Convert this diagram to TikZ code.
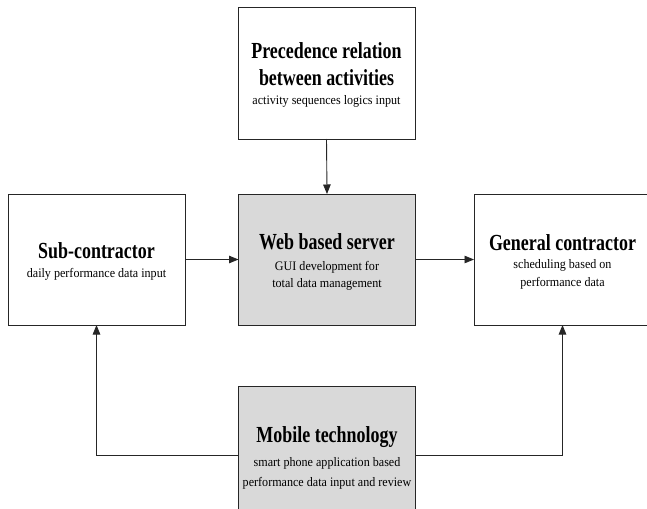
\documentclass[tikz,border=0pt]{standalone}
\usepackage{fontspec}
\setmainfont{Liberation Serif}
\newfontfamily\headfont[FakeStretch=0.78]{Liberation Serif}
\newfontfamily\subfont[FakeStretch=0.93]{Liberation Serif}
\usetikzlibrary{arrows.meta}
\definecolor{boxgray}{HTML}{D9D9D9}
\definecolor{linegray}{HTML}{262626}
\tikzset{
  box/.style={draw=linegray, line width=1pt, minimum width=177pt, minimum height=131pt, inner sep=0pt, outer sep=0pt},
  graybox/.style={box, fill=boxgray},
  head/.style={anchor=base, inner sep=0pt, font=\headfont\bfseries\fontsize{23}{27}\selectfont},
  sub/.style={anchor=base, inner sep=0pt, font=\subfont\fontsize{13}{17}\selectfont},
  arr/.style={draw=linegray, line width=0.9pt, -{Triangle[length=9.5pt,width=7.5pt]}}
}
\begin{document}
\begin{tikzpicture}[x=1pt,y=-1pt]
\useasboundingbox (0,0) rectangle (647,508);
\clip (0,0) rectangle (647,508);
% boxes
\node[box] (top) at (326.5,73.5) {};
\node[box] (sc) at (96.5,259.5) {};
\node[graybox] (web) at (327,259.5) {};
\node[box] (gc) at (562.5,259.5) {};
\node[graybox] (mob) at (327,451.5) {};
% texts
\node[head] (t1) at (326.5,59) {Precedence relation};
\node[head] (t2) at (326.5,86) {between activities};
\node[sub] (t3) at (326.5,105) {activity sequences logics input};
\node[head] (s1) at (96.5,258.5) {Sub-contractor};
\node[sub] (s2) at (96.5,277.5) {daily performance data input};
\node[head] (w1) at (327,249) {Web based server};
\node[sub] (w2) at (327,270) {GUI development for};
\node[sub] (w3) at (327,287.5) {total data management};
\node[head] (g1) at (562.5,250.5) {General contractor};
\node[sub] (g2) at (562.5,268) {scheduling based on};
\node[sub] (g3) at (562.5,286) {performance data};
\node[head] (m1) at (327,442) {Mobile technology};
\node[sub] (m2) at (327,466) {smart phone application based};
\node[sub] (m3) at (327,486) {performance data input and review};
% connectors
\coordinate (mrow) at (0,455);
\draw[arr] (top.south) -- (web.north);
\draw[arr] (sc.east) -- (web.west);
\draw[arr] (web.east) -- (gc.west);
\draw[arr] (mob.west |- mrow) -| (sc.south);
\draw[arr] (mob.east |- mrow) -| (gc.south);
\end{tikzpicture}
\end{document}
